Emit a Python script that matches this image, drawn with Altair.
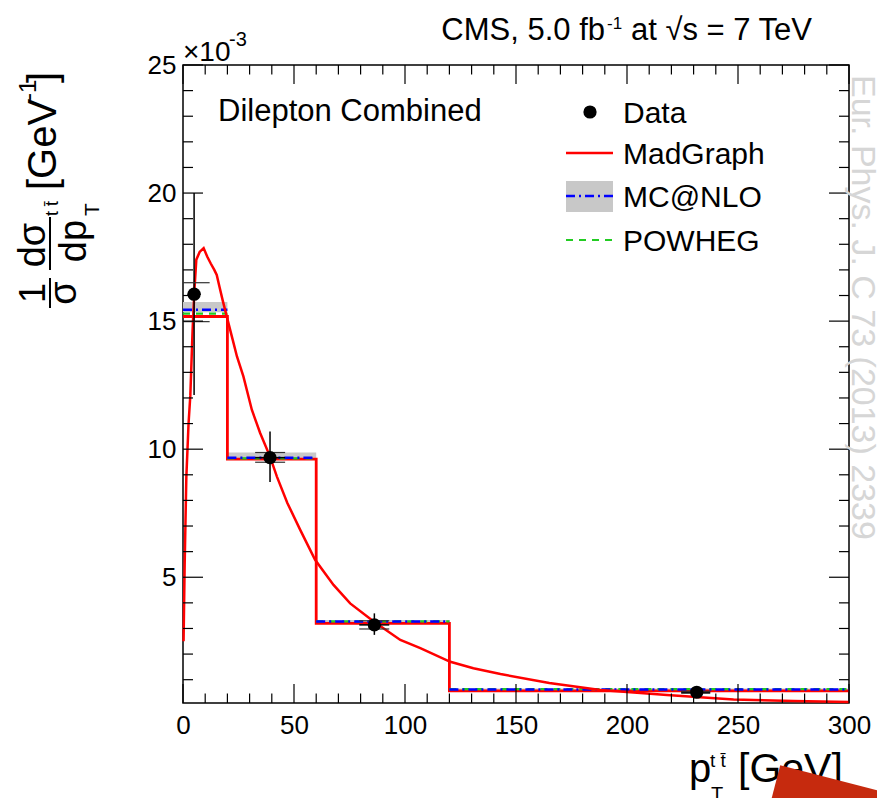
import altair as alt
import pandas as pd

# ---------------- data (values in units of 1e-3 GeV^-1) ----------------
bin_lo = [0, 20, 60, 120]
bin_hi = [20, 60, 120, 300]
madgraph_hist = [15.18, 9.61, 3.20, 0.56]
mcnlo_hist = [15.44, 9.67, 3.27, 0.62]
mcnlo_lo = [15.35, 9.58, 3.22, 0.59]
mcnlo_hi = [15.75, 9.87, 3.33, 0.66]
powheg_hist = [15.29, 9.64, 3.28, 0.63]

data_x = [5.0, 39.2, 86.2, 231.4]
data_y = [16.05, 9.67, 3.14, 0.51]
data_tot_lo = [12.12, 8.72, 2.75, 0.42]
data_tot_hi = [20.00, 10.69, 3.59, 0.60]
data_stat_lo = [14.98, 9.49, 2.98, 0.47]
data_stat_hi = [16.50, 9.87, 3.30, 0.55]
data_xerr_lo = [2.0, 32.5, 79.4, 224.4]
data_xerr_hi = [8.0, 46.0, 92.9, 237.5]
cap_x_lo = [0.0, 32.5, 79.4, 224.4]
cap_x_hi = [12.0, 46.0, 92.9, 237.5]

mg_curve_x = [0.25, 0.75, 1.5, 2.5, 3.3, 4.3, 5.2, 6.0, 7.5, 9.3, 11.0, 12.5, 14.1, 15.2,
              16.4, 17.9, 20.1, 22.4, 24.3, 27.2, 31.0, 34.7, 39.2, 42.3, 47.0, 52.8,
              59.5, 67.8, 75.3, 85.9, 97.9, 106.9, 120.4, 130.8, 143.0, 165.0, 188.0,
              218.0, 248.0, 275.0, 300.0]
mg_curve_y = [2.5, 5.5, 8.9, 11.0, 12.1, 14.6, 16.3, 17.4, 17.7, 17.85, 17.5, 17.25, 17.0,
              16.8, 16.35, 15.8, 15.05, 14.27, 13.62, 12.84, 11.54, 10.64, 9.71, 8.93, 7.9,
              6.85, 5.68, 4.70, 3.98, 3.27, 2.55, 2.23, 1.70, 1.45, 1.22, 0.87, 0.60,
              0.40, 0.23, 0.17, 0.13]

x_labels = [0, 50, 100, 150, 200, 250, 300]
y_labels = [5, 10, 15, 20, 25]
x_minor = [v for v in range(0, 301, 10) if v % 50]
y_minor = [v for v in range(1, 25) if v % 5]

legend_labels = ["Data", "MadGraph", "MC@NLO", "POWHEG"]
watermark = "Eur. Phys. J. C 73 (2013) 2339"

# ---------------- layout ----------------
L, T = 183, 65
W, H = 666, 638
XMIN, XMAX = 0, 300
YMIN, YMAX = 0.09, 25
PX_X = W / (XMAX - XMIN)
PX_Y = H / (YMAX - YMIN)

FONT = "Liberation Sans"
RED, BLUE, GREEN, GRAY = "#ff0000", "#0000ff", "#22cc22", "#c8c8c8"

xs = alt.Scale(domain=[XMIN, XMAX], nice=False, zero=False)
ys = alt.Scale(domain=[YMIN, YMAX], nice=False, zero=False)
AX = alt.Axis(values=x_labels, title=None, labelFontSize=26, labelFont=FONT,
              labelColor="black", labelPadding=9, labelFlush=False, ticks=False,
              tickSize=0, domain=False, grid=False, format="d")
AY = alt.Axis(values=y_labels, title=None, labelFontSize=26, labelFont=FONT,
              labelColor="black", labelPadding=7, labelFlush=False, ticks=False,
              tickSize=0, domain=False, grid=False, format="d")


def X(f):
    return alt.X(f, type="quantitative", scale=xs, axis=AX)


def Y(f):
    return alt.Y(f, type="quantitative", scale=ys, axis=AY)


layers = []

# MC@NLO uncertainty band
band = pd.DataFrame({"lo": bin_lo, "hi": bin_hi, "ylo": mcnlo_lo, "yhi": mcnlo_hi,
                     "mc": mcnlo_hist, "pw": powheg_hist})
layers.append(alt.Chart(band).mark_rect(color=GRAY).encode(
    x=X("lo"), x2="hi", y=Y("ylo"), y2="yhi"))

# MadGraph histogram (full outline)
mgh = pd.DataFrame({"x": bin_lo + [bin_hi[-1]], "y": madgraph_hist + [madgraph_hist[-1]]})
layers.append(alt.Chart(mgh).mark_line(
    color=RED, strokeWidth=2.8, interpolate="step-after").encode(x=X("x"), y=Y("y")))

# POWHEG and MC@NLO bin contents (horizontal segments)
layers.append(alt.Chart(band).mark_rule(
    color=GREEN, strokeWidth=2.2, strokeDash=[7, 6]).encode(x=X("lo"), x2="hi", y=Y("pw")))
layers.append(alt.Chart(band).mark_rule(
    color=BLUE, strokeWidth=2.5, strokeDash=[9, 4, 2, 4]).encode(x=X("lo"), x2="hi", y=Y("mc")))

# MadGraph fine-binned curve
mg = pd.DataFrame({"x": mg_curve_x, "y": mg_curve_y})
layers.append(alt.Chart(mg).mark_line(color=RED, strokeWidth=2.5).encode(x=X("x"), y=Y("y")))

# data with error bars
dd = pd.DataFrame({"x": data_x, "y": data_y, "lo": data_tot_lo, "hi": data_tot_hi,
                   "sl": data_stat_lo, "sh": data_stat_hi,
                   "xl": data_xerr_lo, "xh": data_xerr_hi,
                   "cl": cap_x_lo, "ch": cap_x_hi})
base = alt.Chart(dd)
layers.append(base.mark_rule(color="black", strokeWidth=1.5).encode(x=X("x"), y=Y("lo"), y2="hi"))
layers.append(base.mark_rule(color="black", strokeWidth=1.5).encode(x=X("xl"), x2="xh", y=Y("y")))
layers.append(base.mark_rule(color="#333333", strokeWidth=1.2).encode(x=X("cl"), x2="ch", y=Y("sl")))
layers.append(base.mark_rule(color="#333333", strokeWidth=1.2).encode(x=X("cl"), x2="ch", y=Y("sh")))
layers.append(base.mark_point(shape="circle", filled=True, color="black", size=175, opacity=1).encode(
    x=X("x"), y=Y("y")))

# inward ticks on all four sides (ROOT style)
LMX_Y, LMN_Y = 19 / PX_Y, 9.5 / PX_Y
LMX_X, LMN_X = 20 / PX_X, 10 / PX_X
rows = []
for v in x_labels:
    rows += [(v, v, YMIN, YMIN + LMX_Y), (v, v, YMAX, YMAX - LMX_Y)]
for v in x_minor:
    rows += [(v, v, YMIN, YMIN + LMN_Y), (v, v, YMAX, YMAX - LMN_Y)]
for v in y_labels:
    rows += [(XMIN, XMIN + LMX_X, v, v), (XMAX, XMAX - LMX_X, v, v)]
for v in y_minor:
    rows += [(XMIN, XMIN + LMN_X, v, v), (XMAX, XMAX - LMN_X, v, v)]
ticks = pd.DataFrame(rows, columns=["x", "x2", "y", "y2"])
layers.append(alt.Chart(ticks).mark_rule(color="black", strokeWidth=1.2).encode(
    x=X("x"), x2="x2", y=Y("y"), y2="y2"))


def txt(s, x, y, size, align="left", baseline="alphabetic", angle=0, color="black"):
    return alt.Chart(pd.DataFrame({"t": [s]})).mark_text(
        align=align, baseline=baseline, angle=angle, fontSize=size, font=FONT,
        color=color).encode(x=alt.value(x - L), y=alt.value(y - T), text="t:N")


def vbar(x, y1, y2, w=2):
    return alt.Chart(pd.DataFrame({"a": [0]})).mark_rule(color="black", strokeWidth=w).encode(
        x=alt.value(x - L), y=alt.value(y1 - T), y2=alt.value(y2 - T))


# top title
layers.append(txt("CMS, 5.0 fb", 605, 40, 31, align="right"))
layers.append(txt("-1", 607, 29, 17))
layers.append(txt("at \u221As = 7 TeV", 631, 40, 31))
# exponent
layers.append(txt("\u00d710", 183, 61, 28))
layers.append(txt("-3", 229, 46, 20))
# label inside plot
layers.append(txt("Dilepton Combined", 218, 121, 31))

# x title
layers.append(txt("p", 689, 782, 40))
layers.append(txt("t t\u0304", 710, 767, 19))
layers.append(txt("T", 711, 801, 20))
layers.append(txt("[GeV]", 738, 782, 41))

# y title (rotated)
layers.append(txt("1", 45, 293, 36, align="center", angle=270))
layers.append(txt("\u03c3", 76, 293, 38, align="center", angle=270))
layers.append(txt("d\u03c3", 45, 245, 38, align="center", angle=270))
layers.append(txt("dp", 86, 241, 38, align="center", angle=270))
layers.append(txt("t t\u0304", 58, 216, 18, align="left", angle=270))
layers.append(txt("T", 99, 216, 21, align="left", angle=270))
layers.append(txt("[GeV", 56, 190, 40, align="left", angle=270))
layers.append(txt("-1", 36, 101, 24, align="left", angle=270))
layers.append(txt("]", 56, 83, 40, align="left", angle=270))
layers.append(vbar(50, 278, 308))
layers.append(vbar(50, 217, 270))

# watermark (vertical, light gray)
layers.append(txt(watermark, 862, 75, 34, align="left", baseline="middle", angle=90,
                  color="#d6d6d6"))

# legend
leg_y = [112, 153, 196, 240]
layers.append(alt.Chart(pd.DataFrame({"a": [0]})).mark_rect(color=GRAY).encode(
    x=alt.value(566 - L), x2=alt.value(613 - L), y=alt.value(181 - T), y2=alt.value(212 - T)))
layers.append(alt.Chart(pd.DataFrame({"a": [0]})).mark_point(
    shape="circle", filled=True, color="black", size=175, opacity=1).encode(
    x=alt.value(590 - L), y=alt.value(leg_y[0] - T)))
layers.append(alt.Chart(pd.DataFrame({"a": [0]})).mark_rule(color=RED, strokeWidth=2.5).encode(
    x=alt.value(566 - L), x2=alt.value(613 - L), y=alt.value(leg_y[1] - T)))
layers.append(alt.Chart(pd.DataFrame({"a": [0]})).mark_rule(
    color=BLUE, strokeWidth=2.5, strokeDash=[9, 4, 2, 4]).encode(
    x=alt.value(566 - L), x2=alt.value(613 - L), y=alt.value(leg_y[2] - T)))
layers.append(alt.Chart(pd.DataFrame({"a": [0]})).mark_rule(
    color=GREEN, strokeWidth=2.2, strokeDash=[7, 6]).encode(
    x=alt.value(566 - L), x2=alt.value(613 - L), y=alt.value(leg_y[3] - T)))
for lab, yy in zip(legend_labels, leg_y):
    layers.append(txt(lab, 623, yy + 11, 30))

# red corner sticker
layers.append(alt.Chart(pd.DataFrame({"a": [0]})).mark_point(
    shape="M-0.718,-1.218L1.218,-0.718L0.718,1.218L-1.218,0.718Z", filled=True,
    color="#c62a0e", size=40000, opacity=1, strokeWidth=0).encode(
    x=alt.value(852 - L), y=alt.value(887 - T)))

chart = alt.layer(*layers).properties(
    width=W, height=H,
    autosize=alt.AutoSizeParams(type="none"),
    padding={"left": L, "top": T, "right": 877 - L - W, "bottom": 798 - T - H},
    background="white",
).configure_view(stroke="black", strokeWidth=1.5)

chart.save("out.html", embed_options={"renderer": "svg", "actions": False})
